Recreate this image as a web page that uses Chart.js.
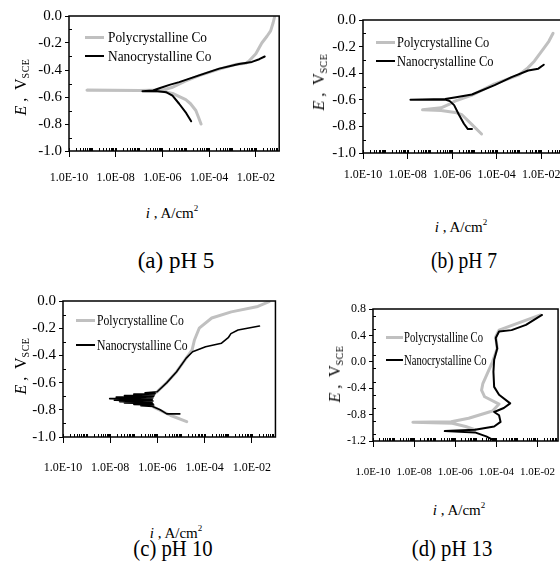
<!DOCTYPE html>
<html lang="en">
<head>
<meta charset="UTF-8">
<title>Polarization curves of Co</title>
<script src="https://cdn.jsdelivr.net/npm/chart.js"></script>
<style>
    body { margin: 0; background: #fff; overflow: hidden; }
    #fig { position: relative; width: 560px; height: 561px; overflow: hidden; background: #fff;
           font-family: 'Liberation Serif', 'Times New Roman', serif; color: #000; }
    canvas { position: absolute; }
    .t { position: absolute; white-space: nowrap; line-height: 1; }
    .c { transform: translate(-50%, -50%); }
    .ytitle { font-size: 16px; transform: translate(-50%, -50%) rotate(-90deg); }
    .ytitle .sub { font-size: 10px; position: relative; top: 3px; letter-spacing: 0.5px; }
    .xtitle { font-size: 15px; }
    .xtitle sup { font-size: 9px; position: relative; top: -2px; vertical-align: top; }
    .cap { font-size: 23px; }
    .leg { font-size: 15px; transform-origin: left center; }
    .swatch { position: absolute; height: 2.5px; }
</style>
</head>
<body>
<div id="fig">
    <canvas id="chartA" width="290" height="200" style="left:0px;top:0px"></canvas>
    <canvas id="chartB" width="280" height="200" style="left:290px;top:0px"></canvas>
    <canvas id="chartC" width="290" height="200" style="left:0px;top:280px"></canvas>
    <canvas id="chartD" width="285" height="200" style="left:290px;top:280px"></canvas>

    <!-- legends -->
    <div class="swatch" style="left:85px;top:36px;width:19px;background:#c0c0c0"></div>
    <div class="t leg" style="left:108px;top:37px;transform:translateY(-50%) scaleX(0.89)">Polycrystalline Co</div>
    <div class="swatch" style="left:85px;top:55px;width:19px;background:#000;height:2px"></div>
    <div class="t leg" style="left:108px;top:56px;transform:translateY(-50%) scaleX(0.89)">Nanocrystalline Co</div>

    <div class="swatch" style="left:376px;top:41px;width:19px;background:#c0c0c0"></div>
    <div class="t leg" style="left:397px;top:42px;transform:translateY(-50%) scaleX(0.83)">Polycrystalline Co</div>
    <div class="swatch" style="left:376px;top:60px;width:19px;background:#000;height:2px"></div>
    <div class="t leg" style="left:397px;top:61px;transform:translateY(-50%) scaleX(0.83)">Nanocrystalline Co</div>

    <div class="swatch" style="left:76px;top:319px;width:19px;background:#c0c0c0"></div>
    <div class="t leg" style="left:97px;top:320px;transform:translateY(-50%) scaleX(0.78)">Polycrystalline Co</div>
    <div class="swatch" style="left:76px;top:344px;width:19px;background:#000;height:2px"></div>
    <div class="t leg" style="left:97px;top:345px;transform:translateY(-50%) scaleX(0.78)">Nanocrystalline Co</div>

    <div class="swatch" style="left:386px;top:336px;width:17px;background:#c0c0c0"></div>
    <div class="t leg" style="left:404px;top:337px;transform:translateY(-50%) scaleX(0.71)">Polycrystalline Co</div>
    <div class="swatch" style="left:386px;top:359px;width:17px;background:#000;height:2px"></div>
    <div class="t leg" style="left:404px;top:360px;transform:translateY(-50%) scaleX(0.71)">Nanocrystalline Co</div>

    <!-- axis titles -->
    <div class="t ytitle" style="left:21px;top:87px"><i>E</i> ,&nbsp; V<span class="sub">SCE</span></div>
    <div class="t ytitle" style="left:319px;top:82px"><i>E</i> ,&nbsp; V<span class="sub">SCE</span></div>
    <div class="t ytitle" style="left:21px;top:366px"><i>E</i> ,&nbsp; V<span class="sub">SCE</span></div>
    <div class="t ytitle" style="left:335px;top:374px"><i>E</i> ,&nbsp; V<span class="sub">SCE</span></div>

    <div class="t c xtitle" style="left:172px;top:213px"><i>i</i> , A/cm<sup>2</sup></div>
    <div class="t c xtitle" style="left:461px;top:227px"><i>i</i> , A/cm<sup>2</sup></div>
    <div class="t c xtitle" style="left:176px;top:533px"><i>i</i> , A/cm<sup>2</sup></div>
    <div class="t c xtitle" style="left:459px;top:510px"><i>i</i> , A/cm<sup>2</sup></div>

    <!-- captions -->
    <div class="t cap" style="left:176px;top:260px;transform:translate(-50%,-50%)">(a) pH 5</div>
    <div class="t cap" style="left:464px;top:260px;transform:translate(-50%,-50%) scaleX(0.85)">(b) pH 7</div>
    <div class="t cap" style="left:173px;top:548px;transform:translate(-50%,-50%) scaleX(0.9)">(c) pH 10</div>
    <div class="t cap" style="left:452px;top:548px;transform:translate(-50%,-50%) scaleX(0.9)">(d) pH 13</div>
</div>

<script>
    // x axis (current density, A/cm2) labelled ticks
    const xTickValues = [1e-10, 1e-8, 1e-6, 1e-4, 1e-2];
    const xTickLabels = ['1.0E-10', '1.0E-08', '1.0E-06', '1.0E-04', '1.0E-02'];

    // (a) pH 5
    const aPolyI = [4.5e-5, 3.5e-5, 2.7e-5, 1.6e-5, 1.0e-5, 2.7e-6, 1.0e-6, 1.0e-7, 5.9e-10, 1.0e-7, 1.0e-6, 2.5e-6, 1.0e-5, 4.0e-5, 2.5e-4, 1.3e-3, 3.7e-3, 5.0e-3, 1.0e-2, 1.8e-2, 3.0e-2, 4.3e-2, 5.5e-2, 6.5e-2];
    const aPolyE = [-0.80, -0.75, -0.70, -0.65, -0.62, -0.573, -0.558, -0.552, -0.55, -0.551, -0.548, -0.53, -0.48, -0.44, -0.395, -0.36, -0.35, -0.335, -0.28, -0.20, -0.15, -0.11, -0.05, 0.0];
    const aNanoI = [1.7e-5, 1.05e-5, 5.2e-6, 2.7e-6, 1.5e-6, 5.0e-7, 1.4e-7, 4.0e-7, 7.4e-7, 2.0e-6, 5.2e-6, 3.7e-5, 2.7e-4, 1.9e-3, 6.8e-3, 1.4e-2, 2.4e-2];
    const aNanoE = [-0.78, -0.72, -0.65, -0.59, -0.565, -0.555, -0.558, -0.552, -0.535, -0.51, -0.49, -0.44, -0.39, -0.355, -0.34, -0.32, -0.30];

    // (b) pH 7
    const bPolyI = [2.1e-5, 7.8e-6, 2.75e-6, 1.35e-6, 3.2e-7, 4.7e-8, 3.2e-7, 8.1e-7, 1.35e-6, 7.8e-6, 8.1e-5, 9.5e-4, 2.5e-3, 4.9e-3, 1.35e-2, 2.2e-2, 3.4e-2];
    const bPolyE = [-0.857, -0.787, -0.712, -0.695, -0.68, -0.675, -0.66, -0.63, -0.61, -0.565, -0.48, -0.415, -0.36, -0.31, -0.21, -0.16, -0.10];
    const bNanoI = [7.8e-6, 5.1e-6, 3.4e-6, 2.0e-6, 1.23e-6, 7.9e-7, 4.9e-7, 1.35e-8, 4.9e-7, 1.5e-6, 7.8e-6, 8.1e-5, 4.7e-4, 2.6e-3, 7.4e-3, 1.3e-2];
    const bNanoE = [-0.82, -0.82, -0.78, -0.71, -0.64, -0.61, -0.598, -0.60, -0.594, -0.58, -0.56, -0.49, -0.43, -0.38, -0.366, -0.336];

    // (c) pH 10
    const cPolyI = [1.74e-5, 3.5e-6, 6.9e-7, 4.5e-7, 5.1e-7, 9.8e-7, 2.5e-6, 6.5e-6, 1.66e-5, 2.95e-5, 3.7e-5, 5.9e-5, 2.0e-4, 1.35e-3, 1.8e-2, 5.4e-2];
    const cPolyE = [-0.887, -0.84, -0.78, -0.74, -0.70, -0.667, -0.60, -0.52, -0.42, -0.36, -0.287, -0.20, -0.125, -0.08, -0.04, -0.005];
    const cNanoI = [8.9e-6, 2.5e-6, 1.3e-6, 6.3e-7, 2.0e-7, 7.0e-7, 1.0e-7, 6.5e-7, 4.0e-8, 6.0e-7, 2.5e-8, 6.5e-7, 1.5e-8, 6.0e-7, 9.5e-9, 6.5e-7, 1.8e-8, 7.0e-7, 4.0e-8, 7.5e-7, 1.0e-7, 8.0e-7, 3.0e-7, 9.8e-7, 2.5e-6, 6.5e-6, 1.66e-5, 3.1e-5, 1.1e-4, 5.2e-4, 1.0e-3, 1.3e-3, 2.6e-3, 2.1e-2];
    const cNanoE = [-0.83, -0.83, -0.80, -0.775, -0.77, -0.765, -0.76, -0.755, -0.75, -0.745, -0.74, -0.735, -0.73, -0.725, -0.718, -0.712, -0.707, -0.70, -0.695, -0.69, -0.685, -0.68, -0.675, -0.667, -0.60, -0.52, -0.42, -0.373, -0.336, -0.31, -0.27, -0.24, -0.213, -0.184];

    // (d) pH 13
    const dPolyI = [1.4e-2, 6.6e-4, 1.35e-4, 9.3e-5, 1.1e-4, 6.5e-5, 2.2e-5, 1.9e-5, 2.7e-5, 1.35e-4, 6.5e-5, 4.5e-6, 6.3e-7, 8.7e-9, 7.2e-7, 3.2e-6, 9.1e-6];
    const dPolyE = [0.71, 0.56, 0.48, 0.38, 0.20, 0.0, -0.33, -0.43, -0.53, -0.64, -0.745, -0.856, -0.907, -0.917, -0.93, -0.98, -1.03];
    const dNanoI = [1.66e-2, 2.75e-3, 5.5e-4, 1.35e-4, 9.3e-5, 1.1e-4, 7.8e-5, 7.2e-5, 7.8e-5, 1.35e-4, 4.7e-4, 2.3e-4, 7.8e-5, 1.35e-4, 1.6e-4, 7.8e-5, 9.1e-6, 3.1e-7, 9.1e-6, 3.2e-5, 6.5e-5, 8.1e-5];
    const dNanoE = [0.71, 0.56, 0.48, 0.46, 0.36, 0.20, 0.03, -0.15, -0.38, -0.50, -0.63, -0.70, -0.76, -0.81, -0.91, -0.98, -1.03, -1.05, -1.07, -1.13, -1.18, -1.2];

    Chart.defaults.font.family = "'Liberation Serif', 'Times New Roman', serif";
    Chart.defaults.color = '#000';

    // box round the plot, minor ticks pointing inwards
    const frame = {
        id: 'frame',
        afterDraw(chart) {
            const { ctx, chartArea: a } = chart;
            const x = chart.scales.x, y = chart.scales.y;
            ctx.save();
            ctx.strokeStyle = '#000';
            ctx.lineWidth = 1;
            ctx.beginPath();
            for (let n = -10; n <= -2; n++) {
                for (let k = 1; k <= 9; k++) {
                    const px = Math.round(x.getPixelForValue(k * Math.pow(10, n))) + 0.5;
                    if (px > a.right - 1) continue;
                    ctx.moveTo(px, a.bottom);
                    ctx.lineTo(px, a.bottom - 3);
                }
            }
            for (let v = y.min + 0.1; v < y.max; v += 0.2) {
                const py = Math.round(y.getPixelForValue(v)) + 0.5;
                ctx.moveTo(a.left, py);
                ctx.lineTo(a.left + 3, py);
            }
            ctx.stroke();
            ctx.lineWidth = 1.5;
            ctx.strokeRect(a.left, a.top, a.right - a.left, a.bottom - a.top);
            ctx.restore();
        }
    };

    function points(iv, ev) {
        return iv.map((v, i) => ({ x: v, y: ev[i] }));
    }

    function drawPanel(id, o) {
        const ctx = document.getElementById(id).getContext('2d');
        return new Chart(ctx, {
            type: 'scatter',
            data: {
                datasets: [{
                    label: 'Nanocrystalline Co',
                    data: points(o.nanoI, o.nanoE),
                    showLine: true,
                    borderColor: '#000',
                    borderWidth: o.nanoWidth || 2,
                    pointRadius: 0,
                    order: 0
                }, {
                    label: 'Polycrystalline Co',
                    data: points(o.polyI, o.polyE),
                    showLine: true,
                    borderColor: '#c0c0c0',
                    borderWidth: 3,
                    pointRadius: 0,
                    order: 1
                }]
            },
            options: {
                responsive: false,
                animation: false,
                devicePixelRatio: 1,
                layout: { padding: { top: o.padTop, right: o.padRight, left: 0, bottom: 0 } },
                plugins: { legend: { display: false }, tooltip: { enabled: false } },
                elements: { line: { tension: 0, borderJoinStyle: 'round', borderCapStyle: 'round' } },
                scales: {
                    x: {
                        type: 'logarithmic',
                        min: 1e-10,
                        max: 1e-1,
                        afterBuildTicks: s => { s.ticks = xTickValues.map(v => ({ value: v })); },
                        afterFit: s => { s.height = o.xh; },
                        border: { display: false },
                        grid: { drawOnChartArea: false, tickLength: 6, color: '#000', lineWidth: 1 },
                        ticks: {
                            autoSkip: false, maxRotation: 0, minRotation: 0,
                            padding: o.xPad,
                            font: { size: o.xFont },
                            callback: (v, i) => xTickLabels[i]
                        }
                    },
                    y: {
                        min: o.yMin,
                        max: o.yMax,
                        afterFit: s => { s.width = o.yw; },
                        border: { display: false },
                        grid: { drawOnChartArea: false, tickLength: 4, color: '#000', lineWidth: 1 },
                        ticks: {
                            stepSize: 0.2,
                            padding: 3,
                            font: { size: o.yFont },
                            callback: v => v.toFixed(1)
                        }
                    }
                }
            },
            plugins: [frame]
        });
    }

    drawPanel('chartA', { polyI: aPolyI, polyE: aPolyE, nanoI: aNanoI, nanoE: aNanoE,
        yMin: -1, yMax: 0, yw: 69, xh: 49, padTop: 16, padRight: 9, xFont: 12, yFont: 15, xPad: 14 });
    drawPanel('chartB', { polyI: bPolyI, polyE: bPolyE, nanoI: bNanoI, nanoE: bNanoE,
        yMin: -1, yMax: 0, yw: 73, xh: 47, padTop: 20, padRight: 5.5, xFont: 12, yFont: 15, xPad: 9 });
    drawPanel('chartC', { polyI: cPolyI, polyE: cPolyE, nanoI: cNanoI, nanoE: cNanoE, nanoWidth: 1.6,
        yMin: -1, yMax: 0, yw: 63, xh: 43, padTop: 21, padRight: 9, xFont: 12, yFont: 15, xPad: 18 });
    drawPanel('chartD', { polyI: dPolyI, polyE: dPolyE, nanoI: dNanoI, nanoE: dNanoE,
        yMin: -1.2, yMax: 0.8, yw: 83, xh: 39, padTop: 29, padRight: 8.5, xFont: 11, yFont: 12, xPad: 19 });
</script>
</body>
</html>
